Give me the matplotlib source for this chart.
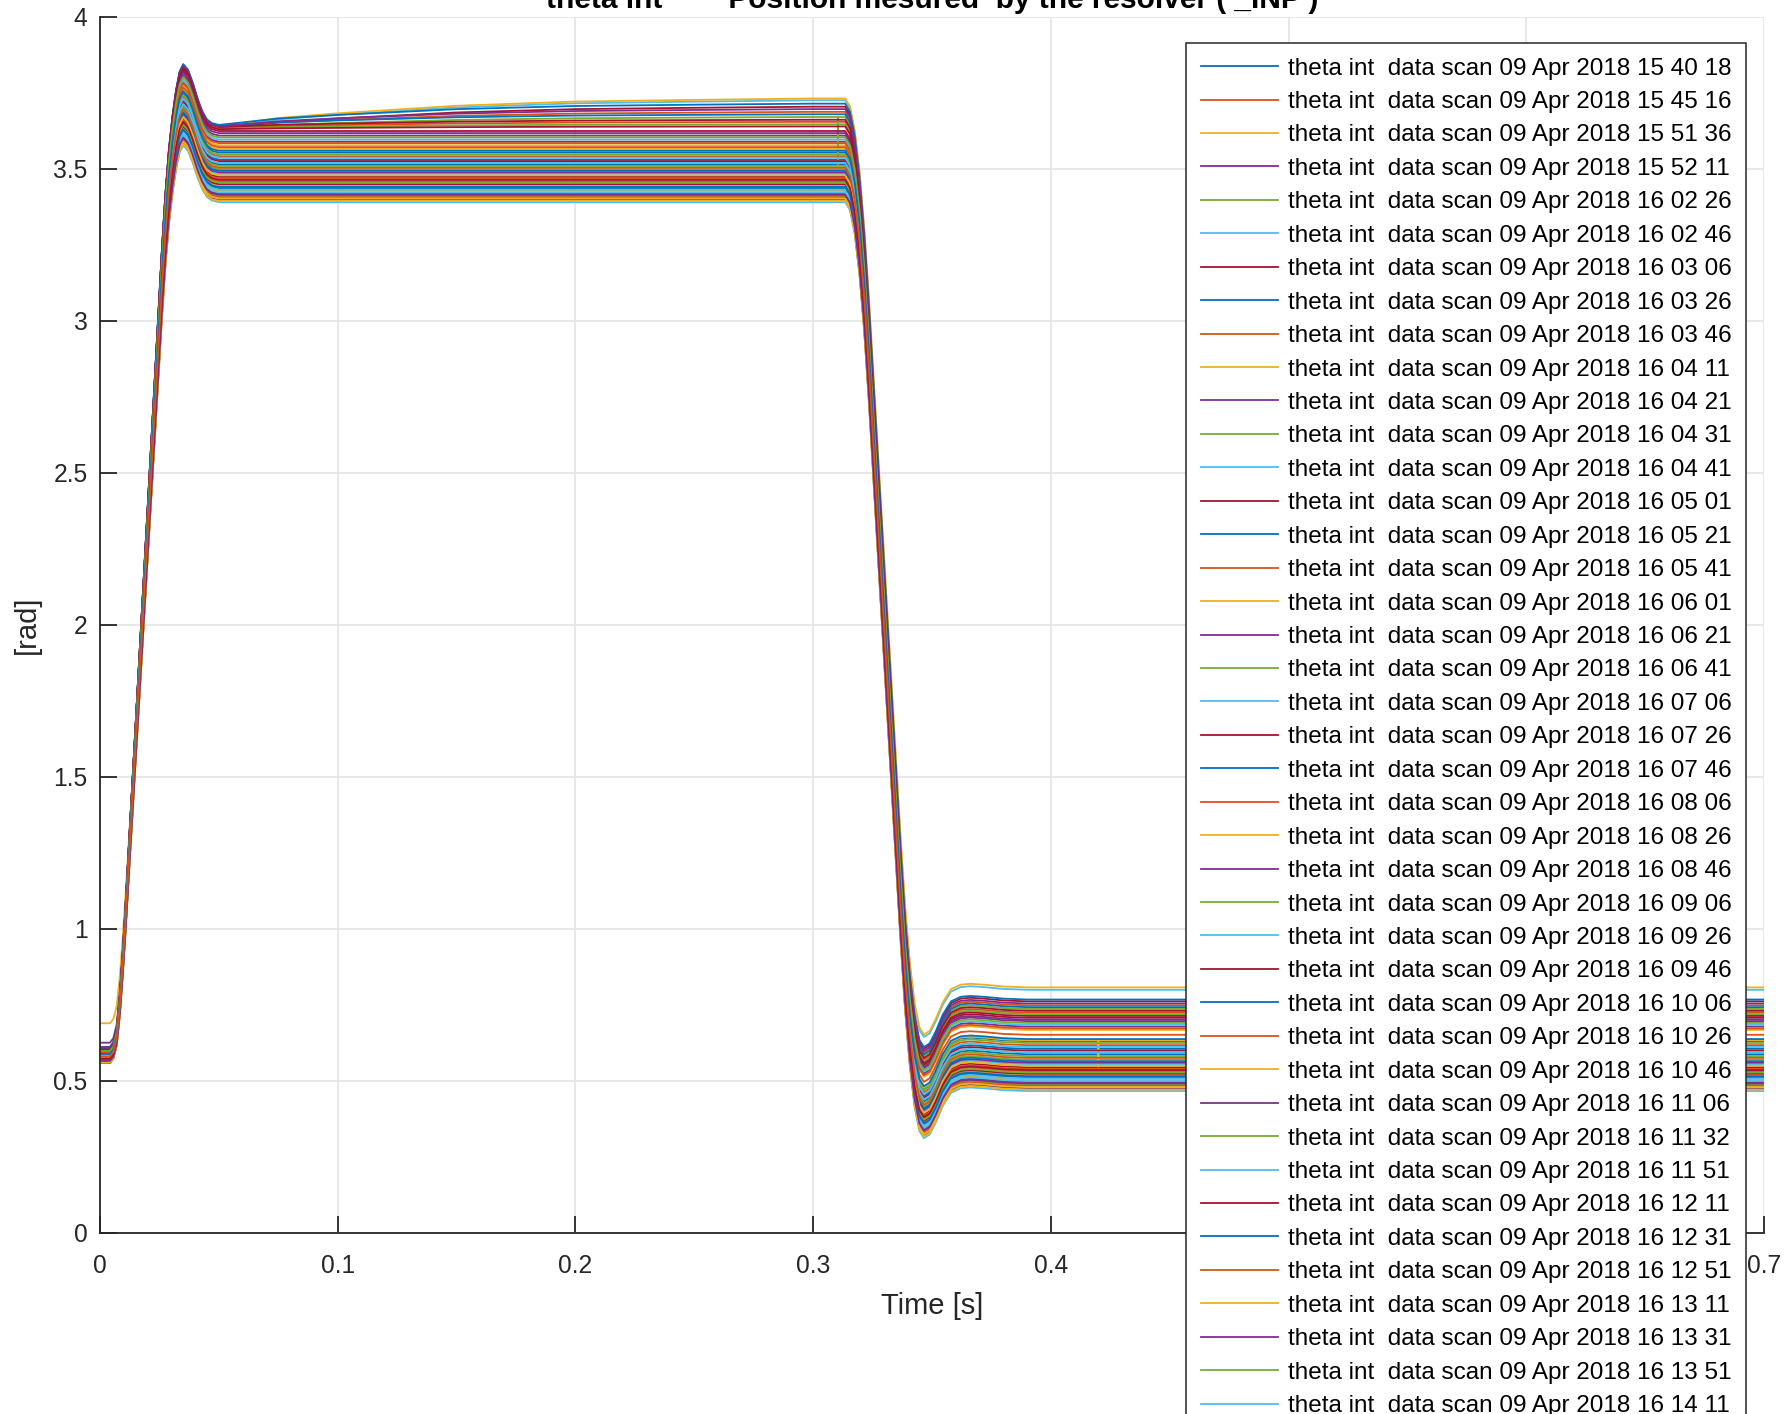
import numpy as np
import matplotlib
matplotlib.use("Agg")
import matplotlib.pyplot as plt

plt.rcParams['font.family'] = ['Liberation Sans', 'DejaVu Sans']

# ---------------------------------------------------------------- data
# Normalised step-response shapes (time in s)
rise_t = [0.0, 0.0042, 0.0056, 0.0070, 0.0084, 0.0095, 0.0105, 0.0160, 0.0210,
          0.0260, 0.0275, 0.0290, 0.0305, 0.0320, 0.0335, 0.0350, 0.0370, 0.0390,
          0.0410, 0.0430, 0.0450, 0.0470, 0.0500]
rise_f = [0.0, 0.0, 0.005, 0.020, 0.058, 0.100, 0.142, 0.398, 0.630,
          0.863, 0.925, 0.974, 1.010, 1.038, 1.058, 1.066, 1.060, 1.046,
          1.029, 1.015, 1.006, 1.002, 1.0]
drift_t = [0.075, 0.100, 0.150, 0.200, 0.250, 0.300]
drift_g = [0.30, 0.47, 0.74, 0.89, 0.95, 1.0]
fall_t = [0.3135, 0.3155, 0.3175, 0.3195, 0.3215, 0.3235, 0.3300, 0.3367, 0.3387,
          0.3407, 0.3427, 0.3447, 0.3466, 0.3490, 0.3515, 0.3545, 0.3580, 0.3620,
          0.3660, 0.3720, 0.3800, 0.3900, 0.7000]
fall_f = [1.0, 0.991, 0.964, 0.918, 0.854, 0.773, 0.477, 0.172, 0.090,
          0.027, -0.018, -0.045, -0.053, -0.049, -0.036, -0.017, -0.002, 0.003,
          0.004, 0.003, 0.001, 0.0, 0.0]

# Per-scan levels [rad]
start_level = [0.584, 0.597, 0.690, 0.626, 0.566, 0.603, 0.575, 0.588, 0.609, 0.562,
               0.592, 0.579, 0.571, 0.606, 0.583, 0.565, 0.595, 0.560, 0.601, 0.577,
               0.612, 0.569, 0.586, 0.604, 0.563, 0.581, 0.598, 0.573, 0.607, 0.559,
               0.590, 0.576, 0.600, 0.568, 0.585, 0.611, 0.574, 0.561, 0.596, 0.582,
               0.567, 0.605, 0.579, 0.593, 0.564, 0.608, 0.572, 0.587, 0.602, 0.570,
               0.591, 0.578, 0.566, 0.599, 0.583, 0.574, 0.589, 0.580]
settle_level = [3.515, 3.637, 3.446, 3.590, 3.411, 3.636, 3.474, 3.554, 3.635, 3.428,
                3.610, 3.499, 3.391, 3.632, 3.531, 3.459, 3.578, 3.399, 3.634, 3.484,
                3.625, 3.437, 3.542, 3.640, 3.419, 3.510, 3.597, 3.450, 3.642, 3.407,
                3.566, 3.489, 3.633, 3.432, 3.526, 3.645, 3.469, 3.395, 3.618, 3.548,
                3.423, 3.638, 3.494, 3.585, 3.403, 3.640, 3.455, 3.537, 3.631, 3.441,
                3.572, 3.479, 3.415, 3.604, 3.520, 3.464, 3.560, 3.504]
high_level = [3.515, 3.688, 3.446, 3.590, 3.411, 3.726, 3.474, 3.554, 3.655, 3.428,
              3.610, 3.499, 3.391, 3.705, 3.531, 3.459, 3.578, 3.399, 3.671, 3.484,
              3.625, 3.437, 3.542, 3.732, 3.419, 3.510, 3.597, 3.450, 3.680, 3.407,
              3.566, 3.489, 3.647, 3.432, 3.526, 3.715, 3.469, 3.395, 3.618, 3.548,
              3.423, 3.662, 3.494, 3.585, 3.403, 3.697, 3.455, 3.537, 3.640, 3.441,
              3.572, 3.479, 3.415, 3.604, 3.520, 3.464, 3.560, 3.504]
low_level = [0.588, 0.749, 0.520, 0.679, 0.488, 0.800, 0.545, 0.631, 0.725, 0.504,
             0.697, 0.570, 0.467, 0.762, 0.606, 0.532, 0.668, 0.476, 0.737, 0.555,
             0.708, 0.512, 0.618, 0.808, 0.496, 0.582, 0.685, 0.524, 0.743, 0.484,
             0.634, 0.560, 0.720, 0.508, 0.600, 0.768, 0.540, 0.472, 0.702, 0.625,
             0.500, 0.731, 0.565, 0.673, 0.480, 0.755, 0.528, 0.612, 0.714, 0.516,
             0.652, 0.550, 0.492, 0.691, 0.594, 0.536, 0.638, 0.576]

# Isolated resolver glitches
glitch_trace = [18, 30]
glitch_time = [0.3105, 0.4200]
glitch_value = [3.513, 0.548]

scan_stamps = ["15 40 18", "15 45 16", "15 51 36", "15 52 11", "16 02 26", "16 02 46",
               "16 03 06", "16 03 26", "16 03 46", "16 04 11", "16 04 21", "16 04 31",
               "16 04 41", "16 05 01", "16 05 21", "16 05 41", "16 06 01", "16 06 21",
               "16 06 41", "16 07 06", "16 07 26", "16 07 46", "16 08 06", "16 08 26",
               "16 08 46", "16 09 06", "16 09 26", "16 09 46", "16 10 06", "16 10 26",
               "16 10 46", "16 11 06", "16 11 32", "16 11 51", "16 12 11", "16 12 31",
               "16 12 51", "16 13 11", "16 13 31", "16 13 51", "16 14 11"]

x_ticks = [0, 0.1, 0.2, 0.3, 0.4, 0.5, 0.6, 0.7]
x_tick_labels = ["0", "0.1", "0.2", "0.3", "0.4", "0.5", "0.6", "0.7"]
y_ticks = [0, 0.5, 1, 1.5, 2, 2.5, 3, 3.5, 4]
y_tick_labels = ["0", "0.5", "1", "1.5", "2", "2.5", "3", "3.5", "4"]

colors = ['#0072BD', '#D95319', '#EDB120', '#7E2F8E', '#77AC30', '#4DBEEE', '#A2142F']

# ---------------------------------------------------------------- figure
W, H = 1787, 1414
fig = plt.figure(figsize=(W / 100, H / 100), dpi=100)
ax = fig.add_axes([100 / W, (H - 1233) / H, (1764 - 100) / W, (1233 - 17) / H])

rt, rf = np.array(rise_t), np.array(rise_f)
dt, dg = np.array(drift_t), np.array(drift_g)
ft, ff = np.array(fall_t), np.array(fall_f)

lines = []
for i in range(len(high_level)):
    s0, s1, hi, lo = start_level[i], settle_level[i], high_level[i], low_level[i]
    t = np.concatenate([rt, dt, ft])
    y = np.concatenate([s0 + (s1 - s0) * rf,
                        s1 + (hi - s1) * dg,
                        lo + (hi - lo) * ff])
    for k, tr in enumerate(glitch_trace):
        if tr == i:
            tg = glitch_time[k]
            base = np.interp(tg, t, y)
            j = np.searchsorted(t, tg)
            t = np.insert(t, j, [tg, tg, tg])
            y = np.insert(y, j, [base, glitch_value[k], base])
    ln, = ax.plot(t, y, color=colors[i % len(colors)], lw=1.3)
    lines.append(ln)

ax.set_xlim(0, 0.7)
ax.set_ylim(0, 4)
ax.set_xticks(x_ticks, x_tick_labels)
ax.set_yticks(y_ticks, y_tick_labels)

axis_col = '#262626'
for side in ('top', 'right'):
    ax.spines[side].set_visible(False)
for side in ('left', 'bottom'):
    ax.spines[side].set_color(axis_col)
    ax.spines[side].set_linewidth(1.3)
ax.tick_params(direction='in', length=12, width=1.3, color=axis_col,
               labelcolor=axis_col, labelsize=17.7)
ax.tick_params(axis='x', pad=15)
ax.tick_params(axis='y', pad=9)
ax.grid(True, color='#e4e4e4', lw=1.2)
ax.set_axisbelow(True)

ax.set_xlabel("Time [s]", fontsize=21, color=axis_col, labelpad=10)
ax.set_ylabel("[rad]", fontsize=21, color=axis_col, labelpad=9)

fig.text(932 / W, 1 - 7.5 / H,
         "theta int        Position mesured  by the resolver ( _INP )",
         ha='center', va='baseline', fontsize=21.5, fontweight='bold', color='#000000')

labels = ["theta int  data scan 09 Apr 2018 " + s for s in scan_stamps]
leg = ax.legend(lines[:len(labels)], labels, loc='upper left',
                bbox_to_anchor=(1186 / W, 1 - 43 / H), bbox_transform=fig.transFigure,
                borderaxespad=0, fontsize=17.5, frameon=True, fancybox=False,
                framealpha=1, edgecolor=axis_col, handlelength=3.2,
                handletextpad=0.38, labelspacing=0.47, borderpad=0.6)
leg.get_frame().set_linewidth(1.1)
for txt in leg.get_texts():
    txt.set_color('#000000')

fig.savefig("out.png", dpi=100, facecolor='white')
